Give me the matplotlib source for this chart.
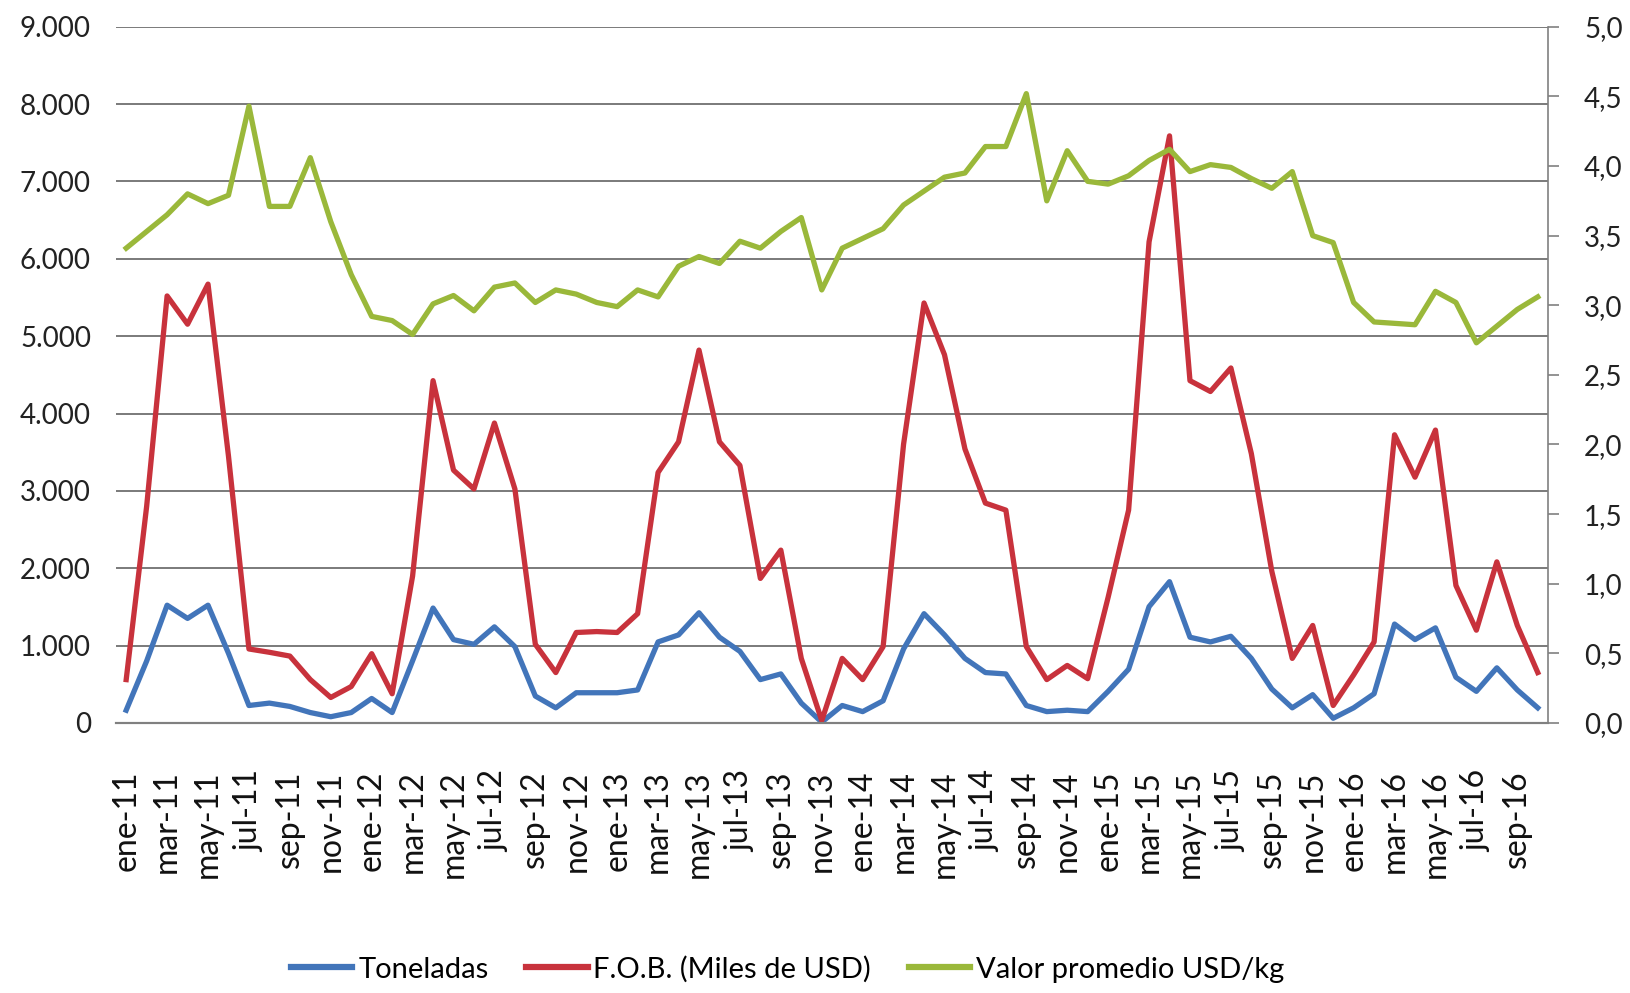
import matplotlib.pyplot as plt
from matplotlib.ticker import FuncFormatter, MultipleLocator

# months ene-11 .. oct-16
meses = ['ene', 'feb', 'mar', 'abr', 'may', 'jun', 'jul', 'ago', 'sep', 'oct', 'nov', 'dic']
anios = ['11', '12', '13', '14', '15', '16']
etiquetas = [m + '-' + a for a in anios for m in meses][:70]

toneladas = [164, 800, 1522, 1351, 1522, 900, 225, 256, 213, 134, 80, 134,
             316, 134, 803, 1485, 1077, 1016, 1242, 986, 347, 195, 390,
             390, 390, 426, 1047, 1138, 1424, 1108, 925, 560, 633, 256, 10,
             225, 146, 286, 956, 1412, 1138, 834, 651, 633, 225, 146, 164,
             146, 408, 694, 1503, 1826, 1108, 1047, 1120, 834, 438, 195,
             365, 60, 195, 377, 1278, 1077, 1229, 590, 408, 712, 426, 195]

fob = [560, 2800, 5520, 5155, 5673, 3450, 956, 913, 864, 560, 329, 470,
       895, 377, 1899, 4425, 3268, 3025, 3877, 3025, 1016, 651, 1169,
       1181, 1169, 1412, 3238, 3634, 4820, 3634, 3329, 1868, 2234, 834, 30,
       834, 560, 986, 3603, 5429, 4760, 3542, 2842, 2751, 986, 560, 743,
       572, 1625, 2751, 6220, 7590, 4425, 4285, 4589, 3481, 1960, 834,
       1260, 225, 621, 1047, 3725, 3177, 3786, 1777, 1199, 2082, 1260, 651]

valor_kg = [3.41, 3.53, 3.65, 3.80, 3.73, 3.79, 4.43, 3.71, 3.71, 4.06, 3.60, 3.22,
            2.92, 2.89, 2.79, 3.01, 3.07, 2.96, 3.13, 3.16, 3.02, 3.11, 3.08,
            3.02, 2.99, 3.11, 3.06, 3.28, 3.35, 3.30, 3.46, 3.41, 3.53, 3.63, 3.11,
            3.41, 3.48, 3.55, 3.72, 3.82, 3.92, 3.95, 4.14, 4.14, 4.52, 3.75, 4.11,
            3.89, 3.87, 3.93, 4.04, 4.12, 3.96, 4.01, 3.99, 3.91, 3.84, 3.96,
            3.50, 3.45, 3.02, 2.88, 2.87, 2.86, 3.10, 3.02, 2.73, 2.85, 2.97, 3.06]

plt.rcParams['font.family'] = ['Lato', 'DejaVu Sans']

fig = plt.figure(figsize=(16.31, 9.93), dpi=100)
ax = fig.add_axes([0.0711, 0.272, 0.878, 0.701])
ax2 = ax.twinx()

x = list(range(len(etiquetas)))
lw = 3.8
l1, = ax.plot(x, toneladas, color='#4275BA', lw=lw, solid_joinstyle='round')
l2, = ax.plot(x, fob, color='#C8323C', lw=lw, solid_joinstyle='round')
l3, = ax2.plot(x, valor_kg, color='#9AB83A', lw=lw, solid_joinstyle='round')

ax.set_xlim(-0.5, len(x) - 0.5)
ax.set_ylim(0, 9000)
ax2.set_ylim(0, 5)

ax.yaxis.set_major_locator(MultipleLocator(1000))
ax.yaxis.set_major_formatter(FuncFormatter(lambda v, p: f'{int(v):,}'.replace(',', '.')))
ax2.yaxis.set_major_locator(MultipleLocator(0.5))
ax2.yaxis.set_major_formatter(FuncFormatter(lambda v, p: f'{v:.1f}'.replace('.', ',')))

ax.grid(axis='y', color='#7a7a7a', lw=1.4)
ax.set_axisbelow(True)

ax.set_xticks(x[::2])
ax.set_xticklabels(etiquetas[::2], rotation=90, fontsize=23, color='#111111')
ax.tick_params(axis='x', length=0, pad=34)
ax.tick_params(axis='y', length=0, pad=18, labelsize=20, colors='#222222')
ax2.tick_params(axis='y', length=8, width=1.2, color='#808080', pad=18, labelsize=20, labelcolor='#222222')

for a in (ax, ax2):
    a.spines['top'].set_visible(False)
    a.spines['left'].set_visible(False)
    a.spines['right'].set_visible(False)
    a.spines['bottom'].set_color('#808080')
    a.spines['bottom'].set_linewidth(1.5)
ax2.spines['right'].set_visible(True)
ax2.spines['right'].set_color('#808080')
ax2.spines['right'].set_linewidth(1.2)

leg = fig.legend([l1, l2, l3], ['Toneladas', 'F.O.B. (Miles de USD)', 'Valor promedio USD/kg'],
                 loc='center', bbox_to_anchor=(0.483, 0.024), ncol=3, frameon=False,
                 fontsize=21, handlelength=2.1, handletextpad=0.2, columnspacing=1.3)
for h in leg.legend_handles:
    h.set_linewidth(4.5)

fig.savefig('out.png', dpi=100)
